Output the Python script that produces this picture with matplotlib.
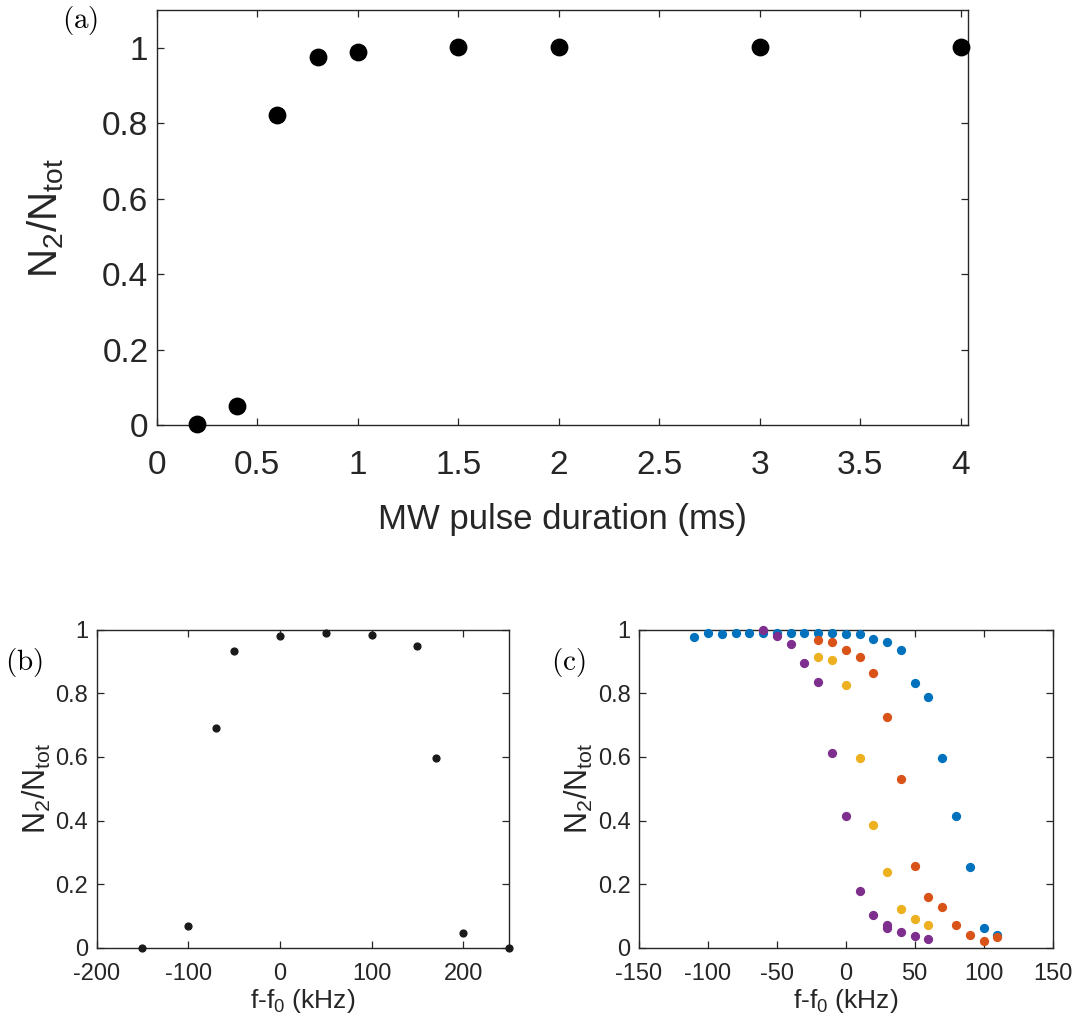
import numpy as np
import matplotlib
matplotlib.use("Agg")
import matplotlib.pyplot as plt
from matplotlib.ticker import FuncFormatter

plt.rcParams['font.family'] = ['Liberation Sans', 'DejaVu Sans']
plt.rcParams['mathtext.fontset'] = 'custom'
plt.rcParams['mathtext.rm'] = 'Liberation Sans'
plt.rcParams['mathtext.it'] = 'Liberation Sans:italic'

# (a) Rabi-like transfer vs pulse length
dur_ms = [0.2, 0.4, 0.6, 0.8, 1.0, 1.5, 2.0, 3.0, 4.0]
frac_a = [0.004, 0.052, 0.822, 0.976, 0.989, 1.002, 1.002, 1.002, 1.002]

# (b) detuning scan, single pulse
det_b = [-150, -100, -70, -50, 0, 50, 100, 150, 170, 200, 250]
frac_b = [0.0, 0.069, 0.692, 0.934, 0.980, 0.989, 0.984, 0.949, 0.598, 0.046, 0.0]

# (c) four detuning scans
det_blue = [-110, -100, -90, -80, -70, -60, -50, -40, -30, -20, -10, 0, 10, 20,
            30, 40, 50, 60, 70, 80, 90, 100, 110]
frac_blue = [0.977, 0.990, 0.985, 0.990, 0.990, 0.990, 0.990, 0.990, 0.990, 0.990,
             0.990, 0.985, 0.985, 0.971, 0.962, 0.935, 0.832, 0.787, 0.598, 0.414,
             0.253, 0.064, 0.042]
det_orange = [-20, -10, 0, 10, 20, 30, 40, 50, 60, 70, 80, 90, 100, 110]
frac_orange = [0.966, 0.962, 0.935, 0.913, 0.864, 0.724, 0.530, 0.257, 0.161,
               0.127, 0.072, 0.041, 0.023, 0.035]
det_yellow = [-20, -10, 0, 10, 20, 30, 40, 50, 60]
frac_yellow = [0.913, 0.903, 0.827, 0.598, 0.387, 0.238, 0.122, 0.090, 0.072]
det_purple = [-60, -50, -40, -30, -20, -10, 0, 10, 20, 30, 30, 40, 50, 60]
frac_purple = [0.998, 0.981, 0.954, 0.895, 0.836, 0.611, 0.414, 0.180, 0.104,
               0.072, 0.063, 0.049, 0.036, 0.027]

AXC = '#262626'
ylab = r'N$_\mathrm{2}$/N$_\mathrm{tot}$'


def matlab_fmt(v, pos):
    return f"{v:g}"


def style(ax, fs, xpad, ypad):
    for s in ax.spines.values():
        s.set_color(AXC)
        s.set_linewidth(1.0)
    ax.tick_params(direction='in', top=True, right=True, colors=AXC,
                   labelcolor=AXC, labelsize=fs, length=5, width=0.9)
    ax.tick_params(axis='x', pad=xpad)
    ax.tick_params(axis='y', pad=ypad)
    ax.xaxis.set_major_formatter(FuncFormatter(matlab_fmt))
    ax.yaxis.set_major_formatter(FuncFormatter(matlab_fmt))


fig = plt.figure(figsize=(10.74, 10.27), dpi=100)

ax_a = fig.add_axes([0.146, 0.586, 0.755, 0.404])
ax_a.scatter(dur_ms, frac_a, s=140, color='black', zorder=3, clip_on=False)
ax_a.set_xlim(0, 4.035)
ax_a.set_ylim(0, 1.1)
ax_a.set_xticks(np.arange(0, 4.01, 0.5))
ax_a.set_yticks(np.arange(0, 1.01, 0.2))
style(ax_a, 24, 18, 6)
ax_a.set_xlabel('MW pulse duration (ms)', fontsize=25, color=AXC, labelpad=16)
ax_a.set_ylabel(ylab, fontsize=29, color=AXC, labelpad=26)

ax_b = fig.add_axes([0.090, 0.077, 0.384, 0.310])
ax_b.scatter(det_b, frac_b, s=24, color='#1a1a1a', zorder=3, clip_on=False)
ax_b.set_xlim(-200, 250)
ax_b.set_ylim(0, 1)
ax_b.set_xticks(np.arange(-200, 201, 100))
ax_b.set_yticks(np.arange(0, 1.01, 0.2))
style(ax_b, 17, 11, 6)
ax_b.set_xlabel(r'f-f$_\mathrm{0}$ (kHz)', fontsize=19, color=AXC, labelpad=1)
ax_b.set_ylabel(ylab, fontsize=22, color=AXC, labelpad=2)

ax_c = fig.add_axes([0.595, 0.077, 0.385, 0.310])
for x, y, c in [(det_blue, frac_blue, '#0072BD'),
                (det_orange, frac_orange, '#D95319'),
                (det_yellow, frac_yellow, '#EDB120'),
                (det_purple, frac_purple, '#7E2F8E')]:
    ax_c.scatter(x, y, s=32, color=c, zorder=3, clip_on=False)
ax_c.set_xlim(-150, 150)
ax_c.set_ylim(0, 1)
ax_c.set_xticks(np.arange(-150, 151, 50))
ax_c.set_yticks(np.arange(0, 1.01, 0.2))
style(ax_c, 17, 11, 6)
ax_c.set_xlabel(r'f-f$_\mathrm{0}$ (kHz)', fontsize=19, color=AXC, labelpad=1)
ax_c.set_ylabel(ylab, fontsize=22, color=AXC, labelpad=2)

# panel letters
for txt, x, y in [('(a)', 0.058, 0.980), ('(b)', 0.005, 0.355), ('(c)', 0.513, 0.355)]:
    fig.text(x, y, r'$\mathrm{' + txt + '}$', fontsize=21, math_fontfamily='cm',
             color='black', va='center', ha='left')

fig.savefig('out.png', dpi=100, facecolor='white')
